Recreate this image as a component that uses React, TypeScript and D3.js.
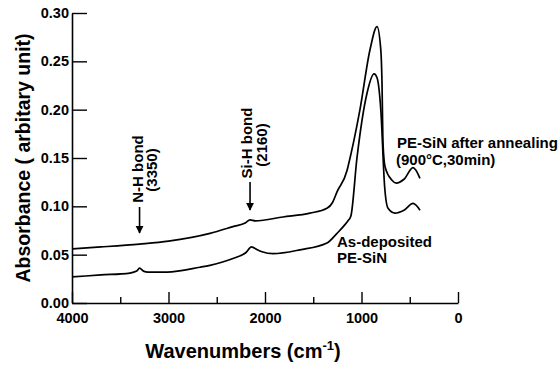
import * as d3 from 'd3';
import React, { useEffect, useRef } from 'react';

// wavenumber (cm-1) and absorbance
const annealedWave = [4000, 3700, 3300, 3000, 2570, 2332, 2200, 2155, 2100, 1813, 1534, 1358, 1300, 1254, 1150, 1140, 1016, 912, 839, 800, 788, 777, 756, 684, 640, 560, 466, 394];
const annealedAbs = [0.056, 0.058, 0.061, 0.064, 0.072, 0.079, 0.083, 0.086, 0.085, 0.089, 0.093, 0.098, 0.104, 0.115, 0.137, 0.141, 0.200, 0.262, 0.286, 0.262, 0.230, 0.165, 0.141, 0.127, 0.124, 0.128, 0.140, 0.129];

const depositedWave = [4000, 3700, 3400, 3330, 3300, 3260, 3212, 3016, 2674, 2570, 2332, 2200, 2140, 2080, 2031, 1917, 1637, 1358, 1254, 1180, 1140, 1110, 1047, 943, 870, 839, 800, 760, 725, 653, 560, 466, 394];
const depositedAbs = [0.027, 0.029, 0.031, 0.033, 0.036, 0.033, 0.032, 0.032, 0.037, 0.039, 0.046, 0.052, 0.058, 0.055, 0.053, 0.051, 0.055, 0.062, 0.072, 0.080, 0.085, 0.090, 0.150, 0.217, 0.237, 0.233, 0.200, 0.120, 0.098, 0.093, 0.096, 0.103, 0.096];

const yTicks = [0, 0.05, 0.1, 0.15, 0.2, 0.25, 0.3];
const xMajorTicks = [4000, 3000, 2000, 1000, 0];
const xMinorTicks = [3500, 2500, 1500, 500];

const font = 'Arial, "Liberation Sans", Helvetica, sans-serif';

export default function App() {
    const xAxisRef = useRef<SVGGElement>(null);
    const xMinorRef = useRef<SVGGElement>(null);
    const yAxisRef = useRef<SVGGElement>(null);

    const x = d3.scaleLinear().domain([4000, 0]).range([72, 458]);
    const y = d3.scaleLinear().domain([0, 0.3]).range([303, 13]);

    const line = d3.line<[number, number]>()
        .x((d) => x(d[0]))
        .y((d) => y(d[1]))
        .curve(d3.curveMonotoneX);

    const annealed: [number, number][] = annealedWave.map((w, i) => [w, annealedAbs[i]]);
    const deposited: [number, number][] = depositedWave.map((w, i) => [w, depositedAbs[i]]);

    useEffect(() => {
        const xAxis = d3.axisBottom(x).tickValues(xMajorTicks).tickSizeInner(-11).tickSizeOuter(0).tickPadding(10).tickFormat(d3.format('d'));
        const xg = d3.select(xAxisRef.current!).call(xAxis as any);
        xg.select('.domain').attr('stroke-width', 1.6);
        xg.selectAll('.tick line').attr('stroke-width', 1.4);
        xg.selectAll('.tick text').attr('font-size', 14.5).attr('font-weight', 'bold').attr('font-family', font).attr('fill', '#000');

        const minor = d3.axisBottom(x).tickValues(xMinorTicks).tickSizeInner(-6).tickSizeOuter(0).tickFormat(() => '');
        const mg = d3.select(xMinorRef.current!).call(minor as any);
        mg.select('.domain').remove();
        mg.selectAll('.tick line').attr('stroke-width', 1.4);

        const yAxis = d3.axisLeft(y).tickValues(yTicks).tickSizeInner(-15).tickSizeOuter(0).tickPadding(3).tickFormat(d3.format('.2f'));
        const yg = d3.select(yAxisRef.current!).call(yAxis as any);
        yg.select('.domain').attr('stroke-width', 1.6);
        yg.selectAll('.tick line').attr('stroke-width', 1.4);
        yg.selectAll('.tick text').attr('font-size', 14.5).attr('font-weight', 'bold').attr('font-family', font).attr('fill', '#000');
    }, []);

    const labelStyle = { fontFamily: font, fontWeight: 'bold' as const, fill: '#000' };

    return (
        <svg width={560} height={370} style={{ position: 'absolute', left: 0, top: 0, background: '#fff' }}>
            <defs>
                <marker id="arrow" viewBox="0 0 10 10" refX="9" refY="5" markerWidth="5" markerHeight="6" orient="auto">
                    <path d="M0,0 L10,5 L0,10 z" fill="#000" />
                </marker>
            </defs>

            <g ref={xAxisRef} transform={`translate(0,${y(0)})`} />
            <g ref={xMinorRef} transform={`translate(0,${y(0)})`} />
            <g ref={yAxisRef} transform={`translate(${x(4000)},0)`} />

            <path d={line(annealed) || ''} fill="none" stroke="#000" strokeWidth={1.7} />
            <path d={line(deposited) || ''} fill="none" stroke="#000" strokeWidth={1.7} />

            {/* bond annotations */}
            <text transform="translate(143,169) rotate(-90)" textAnchor="middle" fontSize={15} {...labelStyle}>N-H bond</text>
            <text transform="translate(157,170) rotate(-90)" textAnchor="middle" fontSize={15} {...labelStyle}>(3350)</text>
            <line x1={x(3300)} x2={x(3300)} y1={207} y2={233} stroke="#000" strokeWidth={1.6} markerEnd="url(#arrow)" />

            <text transform="translate(252,143) rotate(-90)" textAnchor="middle" fontSize={15} {...labelStyle}>Si-H bond</text>
            <text transform="translate(267,145) rotate(-90)" textAnchor="middle" fontSize={15} {...labelStyle}>(2160)</text>
            <line x1={x(2155)} x2={x(2155)} y1={182} y2={210} stroke="#000" strokeWidth={1.6} markerEnd="url(#arrow)" />

            <text x={397} y={148} fontSize={15} {...labelStyle}>PE-SiN after annealing</text>
            <text x={396} y={165} fontSize={15} {...labelStyle}>(900°C,30min)</text>

            <text x={337} y={247} fontSize={15} {...labelStyle}>As-deposited</text>
            <text x={337} y={263} fontSize={15} {...labelStyle}>PE-SiN</text>

            <text transform="translate(30,158) rotate(-90)" textAnchor="middle" fontSize={19.5} {...labelStyle}>Absorbance ( arbitary unit)</text>
            <text x={243} y={358} textAnchor="middle" fontSize={20} {...labelStyle}>
                Wavenumbers (cm<tspan dy={-8} fontSize={13}>-1</tspan><tspan dy={8}>)</tspan>
            </text>
        </svg>
    );
}
